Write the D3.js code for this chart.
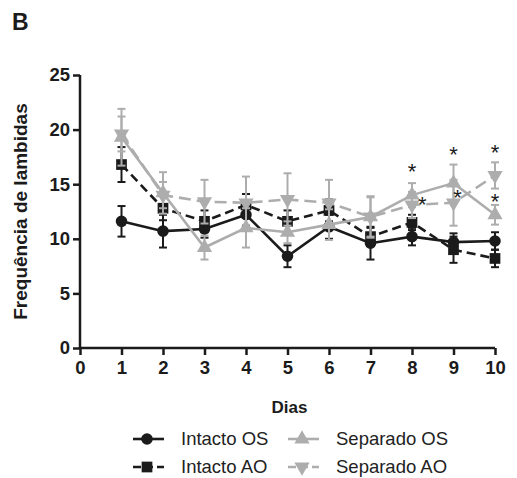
<!DOCTYPE html>
<html>
<head>
<meta charset="utf-8">
<script src="https://cdn.jsdelivr.net/npm/d3@7"></script>
<style>
  body { margin: 0; background: #fff; }
  svg { display: block; font-family: "Liberation Sans", Arial, sans-serif; }
</style>
</head>
<body>
<div id="chart"></div>
<script>
// values (mean and SEM per day)
const days = [1, 2, 3, 4, 5, 6, 7, 8, 9, 10];
const xTicks = [0, 1, 2, 3, 4, 5, 6, 7, 8, 9, 10];
const yTicks = [0, 5, 10, 15, 20, 25];

const intactoOS = [11.6, 10.7, 10.9, 12.2, 8.4, 11.1, 9.6, 10.2, 9.7, 9.8];
const intactoOSErr = [1.4, 1.5, 0.8, 1.0, 1.0, 1.1, 1.5, 0.8, 0.8, 0.8];
const intactoAO = [16.8, 12.8, 11.6, 13.1, 11.6, 12.6, 10.2, 11.5, 9.0, 8.2];
const intactoAOErr = [1.6, 1.1, 1.0, 1.0, 1.0, 1.0, 0.8, 0.7, 1.2, 0.8];
const separadoOS = [19.3, 14.2, 9.2, 11.0, 10.6, 11.3, 12.0, 14.0, 15.1, 12.2];
const separadoOSErr = [2.6, 1.9, 1.1, 1.8, 1.0, 1.4, 1.9, 1.1, 1.7, 0.9];
const separadoAO = [19.6, 14.0, 13.4, 13.3, 13.6, 13.3, 12.0, 13.1, 13.3, 15.8];
const separadoAOErr = [1.6, 1.2, 2.0, 2.4, 2.4, 2.1, 1.8, 1.2, 2.1, 1.2];

// significance marks, placed in data units
const starDays = [8, 8.25, 9, 9.1, 10, 10];
const starValues = [16.7, 13.6, 18.2, 14.3, 18.4, 13.9];

const BLACK = '#1b1b1b';
const GREY = '#adadad';

const series = [
  {name: 'Intacto OS', mean: intactoOS, err: intactoOSErr, color: BLACK, dash: null, shape: d3.symbolCircle, size: 105, rot: 0},
  {name: 'Intacto AO', mean: intactoAO, err: intactoAOErr, color: BLACK, dash: '9,5', shape: d3.symbolSquare, size: 115, rot: 0},
  {name: 'Separado OS', mean: separadoOS, err: separadoOSErr, color: GREY, dash: null, shape: d3.symbolTriangle, size: 100, rot: 0},
  {name: 'Separado AO', mean: separadoAO, err: separadoAOErr, color: GREY, dash: '12,6', shape: d3.symbolTriangle, size: 100, rot: 180}
];

const width = 517, height = 478;
const svg = d3.select('#chart').append('svg')
    .attr('width', width)
    .attr('height', height);

const x = d3.scaleLinear().domain([0, 10]).range([80, 495]);
const y = d3.scaleLinear().domain([0, 25]).range([348, 75]);

// panel letter
svg.append('text')
    .attr('x', 12).attr('y', 30)
    .attr('font-size', 23).attr('font-weight', 'bold')
    .attr('fill', BLACK)
    .text('B');

// axes
const xAxis = svg.append('g')
    .attr('transform', `translate(0,${y(0)})`)
    .call(d3.axisBottom(x).tickValues(xTicks).tickSize(7).tickPadding(6).tickFormat(d3.format('d')));
const yAxis = svg.append('g')
    .attr('transform', `translate(${x(0)},0)`)
    .call(d3.axisLeft(y).tickValues(yTicks).tickSize(7).tickPadding(3).tickFormat(d3.format('d')));

[xAxis, yAxis].forEach(g => {
  g.select('.domain').attr('stroke', BLACK).attr('stroke-width', 2.5);
  g.selectAll('.tick line').attr('stroke', BLACK).attr('stroke-width', 2.5);
  g.selectAll('.tick text')
      .attr('font-family', '"Liberation Sans", Arial, sans-serif')
      .attr('font-size', 18.5).attr('font-weight', 'bold').attr('fill', BLACK);
});
// no outer ticks on the domain path ends
xAxis.select('.domain').attr('d', `M${x(0)},0H${x(10)}`);
yAxis.select('.domain').attr('d', `M0,${y(0)}V${y(25)}`);

// axis titles
svg.append('text')
    .attr('x', (x(0) + x(10)) / 2 + 2).attr('y', 413)
    .attr('text-anchor', 'middle')
    .attr('font-size', 17).attr('font-weight', 'bold').attr('fill', BLACK)
    .text('Dias');

svg.append('text')
    .attr('transform', `translate(27,${(y(0) + y(25)) / 2}) rotate(-90)`)
    .attr('text-anchor', 'middle')
    .attr('font-size', 19).attr('font-weight', 'bold').attr('fill', BLACK)
    .text('Frequência de lambidas');

const line = d3.line()
    .x((d, i) => x(days[i]))
    .y(d => y(d));

const plot = svg.append('g');

series.forEach(s => {
  const g = plot.append('g');
  // error bars
  const eb = g.selectAll('g.eb')
      .data(s.mean)
      .enter().append('g');
  eb.append('line')
      .attr('x1', (d, i) => x(days[i])).attr('x2', (d, i) => x(days[i]))
      .attr('y1', (d, i) => y(d + s.err[i])).attr('y2', (d, i) => y(d - s.err[i]))
      .attr('stroke', s.color).attr('stroke-width', 2);
  [1, -1].forEach(sign => {
    eb.append('line')
        .attr('x1', (d, i) => x(days[i]) - 4).attr('x2', (d, i) => x(days[i]) + 4)
        .attr('y1', (d, i) => y(d + sign * s.err[i])).attr('y2', (d, i) => y(d + sign * s.err[i]))
        .attr('stroke', s.color).attr('stroke-width', 2);
  });
  // connecting line
  g.append('path')
      .datum(s.mean)
      .attr('d', line)
      .attr('fill', 'none')
      .attr('stroke', s.color)
      .attr('stroke-width', 2.6)
      .attr('stroke-dasharray', s.dash);
  // markers
  g.selectAll('path.mk')
      .data(s.mean)
      .enter().append('path')
      .attr('d', d3.symbol().type(s.shape).size(s.size))
      .attr('transform', (d, i) => `translate(${x(days[i])},${y(d)}) rotate(${s.rot})`)
      .attr('fill', s.color);
});

// asterisks
svg.selectAll('text.star')
    .data(starValues)
    .enter().append('text')
    .attr('x', (d, i) => x(starDays[i]))
    .attr('y', d => y(d) + 13)
    .attr('text-anchor', 'middle')
    .attr('font-size', 22).attr('fill', BLACK)
    .text('*');

// legend: two columns, two rows
const legendRows = [439, 467];
const legendCols = [133, 288];
const legend = svg.append('g');
series.forEach((s, k) => {
  const col = k < 2 ? 0 : 1;
  const row = k % 2;
  const x0 = legendCols[col], yy = legendRows[row];
  legend.append('line')
      .attr('x1', x0).attr('x2', x0 + 31)
      .attr('y1', yy).attr('y2', yy)
      .attr('stroke', s.color).attr('stroke-width', 2.6)
      .attr('stroke-dasharray', s.dash ? '8,4' : null);
  legend.append('path')
      .attr('d', d3.symbol().type(s.shape).size(s.size))
      .attr('transform', `translate(${x0 + 14},${yy}) rotate(${s.rot})`)
      .attr('fill', s.color);
  legend.append('text')
      .attr('x', x0 + 48).attr('y', yy + 6)
      .attr('font-size', 18.5).attr('fill', '#222')
      .text(s.name);
});
</script>
</body>
</html>
